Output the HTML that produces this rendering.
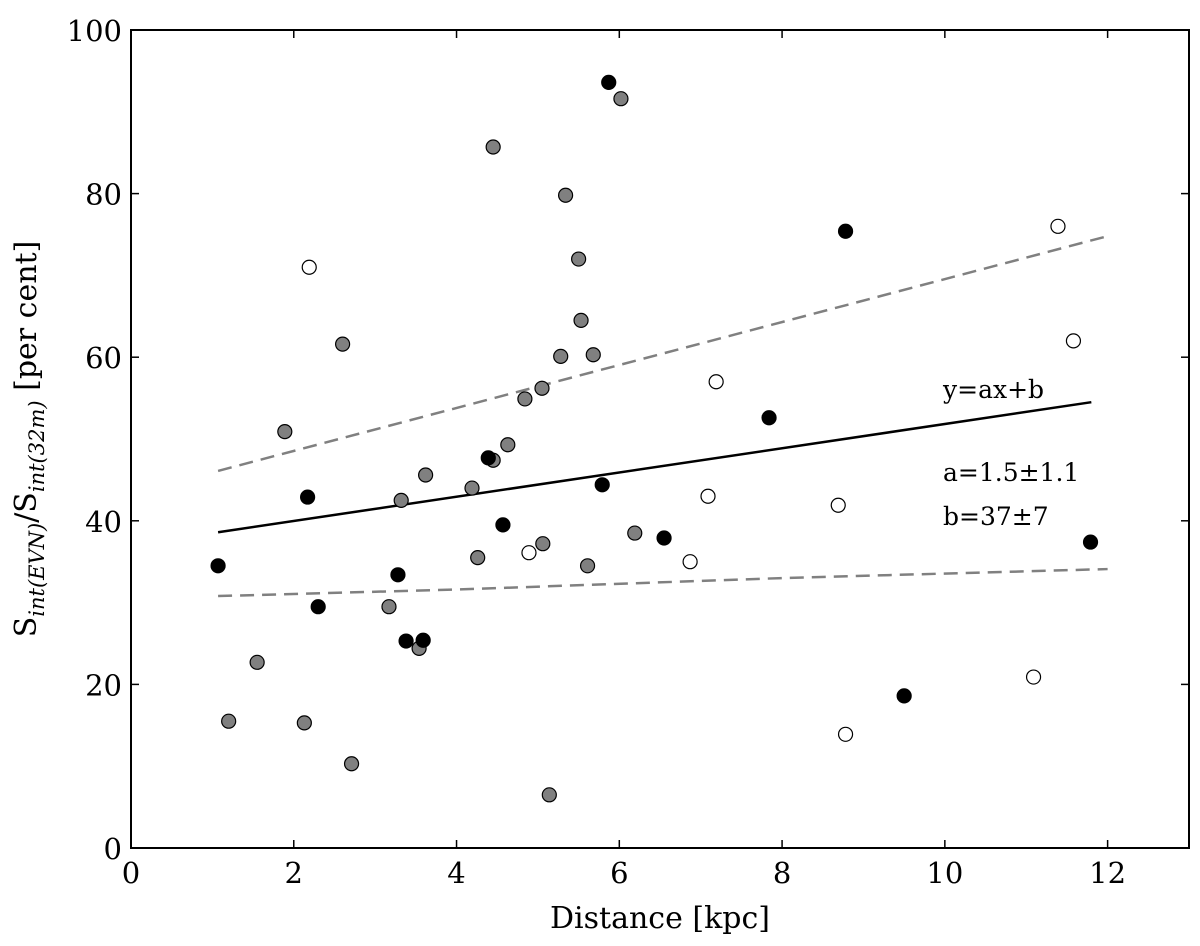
<!DOCTYPE html>
<html><head><meta charset="utf-8"><style>
body{margin:0;background:#fff}
svg text{font-family:"DejaVu Serif","Liberation Serif",serif;fill:#000}
</style></head><body>
<svg id="c" width="1200" height="941" xmlns="http://www.w3.org/2000/svg">
<g id="marks"></g>
</svg>
<script>
const grayX=[1.20,1.55,1.89,2.13,2.60,2.71,3.17,3.32,3.54,3.62,4.19,4.26,4.45,4.45,4.63,4.84,5.05,5.06,5.28,5.34,5.50,5.53,5.61,5.68,6.02,6.19,5.14];
const grayY=[15.5,22.7,50.9,15.3,61.6,10.3,29.5,42.5,24.4,45.6,44.0,35.5,85.7,47.4,49.3,54.9,56.2,37.2,60.1,79.8,72.0,64.5,34.5,60.3,91.6,38.5,6.5];
const blackX=[1.07,2.17,2.30,3.28,3.38,3.59,4.39,4.57,5.79,5.87,6.55,7.84,8.78,9.50,11.79];
const blackY=[34.5,42.9,29.5,33.4,25.3,25.4,47.7,39.5,44.4,93.6,37.9,52.6,75.4,18.6,37.4];
const whiteX=[2.19,4.89,7.19,7.09,6.87,8.69,8.78,11.09,11.39,11.58];
const whiteY=[71.0,36.1,57.0,43.0,35.0,41.9,13.9,20.9,76.0,62.0];
const fitX=[1.07,11.8];
const fitY=[38.6,54.5];
const upperX=[1.07,12];
const upperY=[46.1,74.8];
const lowerX=[1.07,4,8,12];
const lowerY=[30.8,31.6,33.0,34.1];
const xTicks=[0,2,4,6,8,10,12];
const yTicks=[0,20,40,60,80,100];

const L=131,R=1189,T=30,B=848,XMAX=13,YMAX=100;
const sx=v=>L+v/XMAX*(R-L), sy=v=>B-v/YMAX*(B-T);
const NS="http://www.w3.org/2000/svg";
const svg=document.getElementById('c');
function mk(t,a,p){const e=document.createElementNS(NS,t);for(const k in a)e.setAttribute(k,a[k]);(p||svg).appendChild(e);return e;}

const frame=mk('rect',{x:L,y:T,width:R-L,height:B-T,fill:'none',stroke:'#000','stroke-width':2});



xTicks.forEach(v=>{
  const x=sx(v);
  mk('line',{x1:x,x2:x,y1:B,y2:B-8,stroke:'#000','stroke-width':1.5});
  mk('line',{x1:x,x2:x,y1:T,y2:T+8,stroke:'#000','stroke-width':1.5});
  const t=mk('text',{x:x,y:B+35,'text-anchor':'middle','font-size':29});t.textContent=v;
  
  
});
yTicks.forEach(v=>{
  const y=sy(v);
  mk('line',{x1:L,x2:L+8,y1:y,y2:y,stroke:'#000','stroke-width':1.5});
  mk('line',{x1:R,x2:R-8,y1:y,y2:y,stroke:'#000','stroke-width':1.5});
  const t=mk('text',{x:L-9,y:y+11,'text-anchor':'end','font-size':29});t.textContent=v;
  
  
});
const xt=mk('text',{x:660,y:928,'text-anchor':'middle','font-size':30});xt.textContent='Distance [kpc]';


const yt=mk('text',{transform:'translate(36,439) rotate(-90)','text-anchor':'middle','font-size':30});
yt.innerHTML='S<tspan font-size="21" font-style="italic" dy="8">int(EVN)</tspan><tspan dy="-8">/S</tspan><tspan font-size="21" font-style="italic" dy="8">int(32m)</tspan><tspan dy="-8"> [per cent]</tspan>';



function poly(xs,ys,attrs,name){
  const p=mk('polyline',Object.assign({points:xs.map((x,i)=>sx(x)+','+sy(ys[i])).join(' '),fill:'none'},attrs));
  
  
}
poly(upperX,upperY,{stroke:'#808080','stroke-width':2.5,'stroke-dasharray':'14,8'},'upper-confidence-line');
poly(lowerX,lowerY,{stroke:'#808080','stroke-width':2.5,'stroke-dasharray':'14,8'},'lower-confidence-line');
poly(fitX,fitY,{stroke:'#000','stroke-width':2.5},'fit-line');

function pts(xs,ys,fill,name){
  xs.forEach((x,i)=>{
    const c=mk('circle',{cx:sx(x),cy:sy(ys[i]),r:7,fill:fill,stroke:'#000','stroke-width':1.2});
    
    
  });
}
pts(grayX,grayY,'#808080','gray-point');
pts(blackX,blackY,'#000','black-point');
pts(whiteX,whiteY,'#fff','white-point');

[['y=ax+b',398,'fit-equation'],['a=1.5\u00b11.1',481,'slope-value'],['b=37\u00b17',525,'intercept-value']].forEach(a=>{
  const t=mk('text',{x:943,y:a[1],'font-size':25});t.textContent=a[0];
  
  
});
</script>
</body></html>
